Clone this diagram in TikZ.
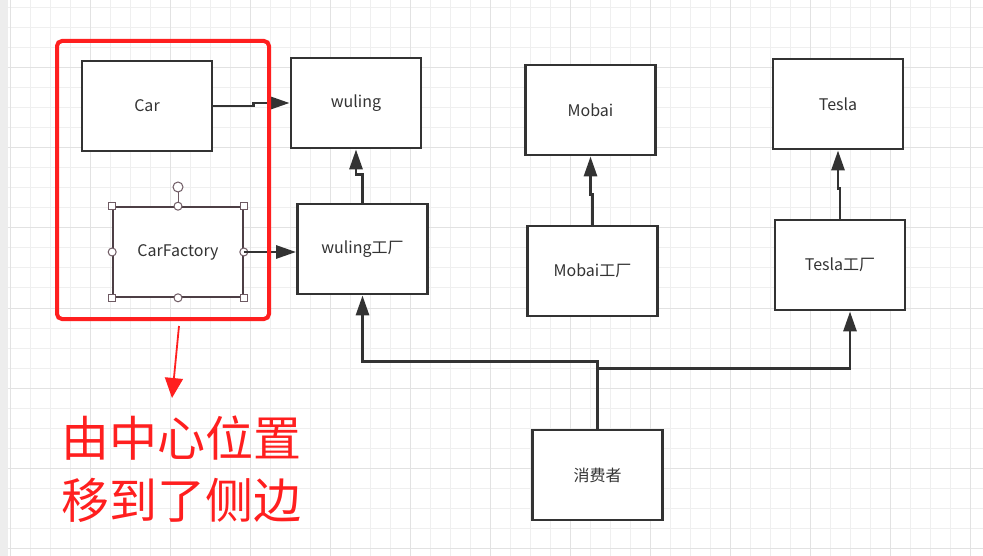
\documentclass[tikz,border=0pt]{standalone}
\usepackage{fontspec}
\setmainfont{Noto Sans CJK SC}
\usetikzlibrary{arrows.meta}
\definecolor{linegray}{HTML}{333333}
\definecolor{gridlight}{HTML}{EFEFEF}
\definecolor{griddark}{HTML}{E2E2E2}
\definecolor{markred}{HTML}{FF1F1F}
\definecolor{handle}{HTML}{6E5A63}

\begin{document}
\begin{tikzpicture}[x=1pt, y=-1pt,
    box/.style={draw=linegray, line width=2.9pt, fill=white, minimum width=130pt, minimum height=90pt,
      inner sep=0pt, text=black!80, font=\fontsize{16}{18}\selectfont},
    conn/.style={draw=linegray, line width=2.9pt, -{Triangle[length=20pt,width=13pt]}},
    sqhandle/.style={draw=handle, fill=white, line width=1pt, minimum size=7pt, inner sep=0pt},
    cirhandle/.style={draw=handle, fill=white, line width=1pt, circle, minimum size=8pt, inner sep=0pt}]
  \useasboundingbox (0,0) rectangle (983,556);
  \fill[white] (0,0) rectangle (983,556);
  \fill[black!7] (0,0) rectangle (8,556);
  \foreach \x in {10,30,...,980} \draw[gridlight, line width=1pt] (\x,0) -- (\x,556);
  \foreach \y in {8,28,...,556} \draw[gridlight, line width=1pt] (8,\y) -- (983,\y);
  \foreach \x in {10,90,...,980} \draw[griddark, line width=1pt] (\x,0) -- (\x,556);
  \foreach \y in {68,148,...,556} \draw[griddark, line width=1pt] (8,\y) -- (983,\y);

  \node[box] (car) at (147,106) {Car};
  \node[box] (wuling) at (356,103) {wuling};
  \node[box, draw=handle!70!black, line width=1.6pt] (carfac) at (178,252) {CarFactory};
  \node[box] (wulingf) at (362.5,249) {wuling工厂};
  \node[box] (mobai) at (590.5,110) {Mobai};
  \node[box] (mobaif) at (592.5,271) {Mobai工厂};
  \node[box] (tesla) at (838,104) {Tesla};
  \node[box] (teslaf) at (840,265) {Tesla工厂};
  \node[box] (consumer) at (597.5,475) {消费者};

  \foreach \p in {north west,north east,south west,south east}
    \node[sqhandle] (h\p) at (carfac.\p) {};
  \foreach \p in {north,south,east,west}
    \node[cirhandle] (c\p) at (carfac.\p) {};
  \node[cirhandle, minimum size=10pt] (rot) at (178,187) {};
  \draw[handle, line width=1pt] (rot) -- (cnorth);

  \draw[conn] (car.east) -- ++(40,0) |- (wuling.west);
  \draw[conn] (carfac.east) -- (carfac.east -| wulingf.west);
  \draw[conn] (wulingf.north) -- ++(0,-28) -| (wuling.south);
  \draw[conn] (mobaif.north) -- ++(0,-30) -| (mobai.south);
  \draw[conn] (teslaf.north) -- ++(0,-30) -| (tesla.south);
  \draw[conn] (consumer.north) -- ++(0,-67) -| (wulingf.south);
  \draw[conn] (consumer.north) -- ++(0,-60) -| ([xshift=10pt]teslaf.south);

  \draw[markred, line width=4pt, rounded corners=5pt] (57,41) rectangle (269,319);
  \coordinate (redtop) at (179,326);
  \coordinate (redtip) at (172,398);
  \draw[markred, line width=1.8pt, -{Triangle[length=20pt,width=18pt]}] (redtop) -- (redtip);
  \node[text=markred, font=\fontsize{48}{62}\selectfont, align=center] (note) at (181,469) {由中心位置\\移到了侧边};
\end{tikzpicture}
\end{document}
